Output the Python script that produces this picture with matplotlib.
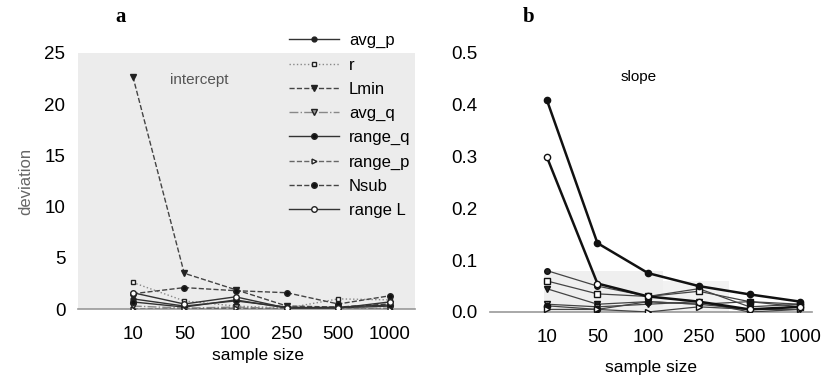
import numpy as np
import matplotlib
matplotlib.use("Agg")
import matplotlib.pyplot as plt

# sample sizes (categorical x axis)
sizes = ["10", "50", "100", "250", "500", "1000"]
series = ["avg_p", "r", "Lmin", "avg_q", "range_q", "range_p", "Nsub", "range L"]

# panel a: intercept deviation
intercept = {
    "avg_p":   [1.0, 0.3, 0.8, 0.2, 0.1, 0.3],
    "r":       [2.6, 0.8, 0.3, 0.1, 1.0, 0.9],
    "Lmin":    [22.7, 3.5, 1.9, 0.3, 0.2, 0.5],
    "avg_q":   [0.3, 0.1, 0.2, 0.05, 0.05, 0.1],
    "range_q": [0.7, 0.2, 0.9, 0.1, 0.2, 0.4],
    "range_p": [0.0, 0.0, 0.1, 0.0, 0.0, 0.0],
    "Nsub":    [1.5, 2.1, 1.8, 1.6, 0.5, 1.3],
    "range L": [1.6, 0.5, 1.2, 0.1, 0.1, 0.7],
}

# panel b: slope deviation
slope = {
    "avg_p":   [0.08, 0.05, 0.03, 0.045, 0.01, 0.015],
    "r":       [0.06, 0.035, 0.03, 0.04, 0.02, 0.01],
    "Lmin":    [0.045, 0.015, 0.02, 0.015, 0.005, 0.01],
    "avg_q":   [0.015, 0.01, 0.015, 0.02, 0.0, 0.005],
    "range_q": [0.012, 0.005, 0.02, 0.015, 0.02, 0.015],
    "range_p": [0.005, 0.005, 0.0, 0.01, 0.005, 0.005],
    "Nsub":    [0.41, 0.133, 0.075, 0.05, 0.034, 0.02],
    "range L": [0.30, 0.055, 0.03, 0.02, 0.005, 0.01],
}

styles = {
    "avg_p":   dict(ls="-",  marker="o", mfc="#222", color="#333", ms=3.5),
    "r":       dict(ls=":",  marker="s", mfc="white", color="#888", ms=3.5),
    "Lmin":    dict(ls="--", marker="v", mfc="#222", color="#444", ms=4),
    "avg_q":   dict(ls="-.", marker="v", mfc="#999", color="#888", ms=4),
    "range_q": dict(ls="-",  marker="o", mfc="#111", color="#333", ms=4),
    "range_p": dict(ls="--", marker=">", mfc="white", color="#666", ms=3.5),
    "Nsub":    dict(ls="--", marker="o", mfc="#111", color="#444", ms=4),
    "range L": dict(ls="-",  marker="o", mfc="white", color="#333", ms=4),
}

plt.rcParams["font.family"] = ["Liberation Sans", "DejaVu Sans"]

fig = plt.figure(figsize=(8.29, 3.84), dpi=100)
ax1 = fig.add_axes([0.094, 0.195, 0.407, 0.667])
ax2 = fig.add_axes([0.591, 0.1875, 0.389, 0.6745])
x = np.arange(len(sizes))

for s in series:
    st = styles[s]
    ax1.plot(x, intercept[s], linestyle=st["ls"], marker=st["marker"],
             color=st["color"], mfc=st["mfc"], mec="#222", ms=st["ms"],
             lw=1.0, label=s, zorder=3)

for s in series:
    st = styles[s]
    lw = 1.8 if s in ("Nsub", "range L") else 0.9
    col = "#111" if s in ("Nsub", "range L") else "#444"
    ax2.plot(x, slope[s], linestyle="-", marker=st["marker"], color=col,
             mfc=st["mfc"], mec="#111", ms=st["ms"] + 0.5, lw=lw, zorder=3)

# light scan patch behind the low slope lines
ax2.axvspan(-0.06, 2.3, ymax=0.16, color="#efefef", lw=0, zorder=0)
ax2.axvspan(2.3, 3.6, ymax=0.12, color="#f2f2f2", lw=0, zorder=0)

ax1.set_facecolor("#ececec")
ax1.set_xlim(-1.07, 5.5)
ax1.set_ylim(0, 25)
ax1.set_yticks([0, 5, 10, 15, 20, 25])
ax2.set_xlim(-1.12, 5.24)
ax2.set_ylim(0, 0.5)
ax2.set_yticks([0.0, 0.1, 0.2, 0.3, 0.4, 0.5])
ax2.set_yticklabels(["0.0", "0.1", "0.2", "0.3", "0.4", "0.5"])

for ax in (ax1, ax2):
    ax.set_xticks(x)
    ax.set_xticklabels(sizes)
    for sp in ("top", "right", "left"):
        ax.spines[sp].set_visible(False)
    ax.spines["bottom"].set_color("#999")
    ax.spines["bottom"].set_linewidth(1.2)
    ax.tick_params(length=0, labelsize=13.5)
    ax.tick_params(axis="x", pad=12)
    ax.tick_params(axis="y", pad=9)

ax1.set_xlabel("sample size", fontsize=12.5, labelpad=4)
ax1.xaxis.label.set_x(0.534)
ax2.set_xlabel("sample size", fontsize=12.5, labelpad=10)
ax1.set_ylabel("deviation", fontsize=12, color="#666", labelpad=8)
ax1.text(0.273, 0.88, "intercept", transform=ax1.transAxes, fontsize=11,
         color="#555")
ax2.text(0.46, 0.89, "slope", transform=ax2.transAxes, fontsize=11,
         ha="center")

fig.legend(loc="upper right", bbox_to_anchor=(0.505, 0.935), frameon=False,
           fontsize=12, handlelength=3.0, labelspacing=0.55,
           handletextpad=0.6, borderpad=0)

fig.text(0.145, 0.955, "a", fontsize=15, fontweight="bold",
         family="Liberation Serif", ha="center", va="center")
fig.text(0.637, 0.955, "b", fontsize=15, fontweight="bold",
         family="Liberation Serif", ha="center", va="center")

fig.savefig("out.png", dpi=100)
